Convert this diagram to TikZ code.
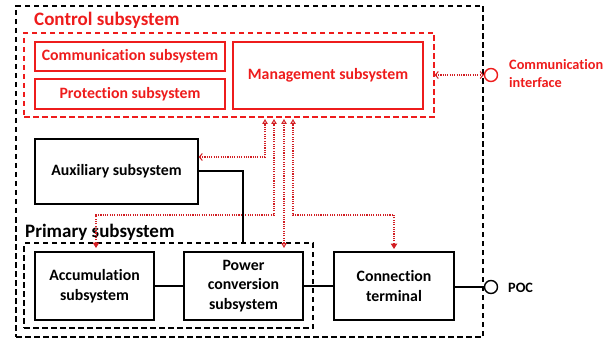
\documentclass[tikz,border=0pt]{standalone}
\usepackage{fontspec}
\setmainfont[Ligatures=NoCommon]{Carlito}
\usetikzlibrary{arrows.meta}
\definecolor{cred}{RGB}{238,28,28}
\definecolor{dred}{RGB}{210,30,35}
\begin{document}
\begin{tikzpicture}[x=1pt,y=-1pt,
  bx/.style={draw=black, line width=1.4pt, inner sep=0pt, align=center,
    font=\fontsize{15.8}{19.5}\selectfont\bfseries},
  rbx/.style={bx, draw=cred, text=cred},
  dbox/.style={draw=black, line width=1.3pt, dash pattern=on 5.5pt off 3.5pt, inner sep=0pt},
  dot/.style={dred, line width=1.1pt, dash pattern=on 1.1pt off 1.2pt},
  uptip/.tip={Triangle[open,length=5pt,width=5.5pt,line width=1pt]},
  barbtip/.tip={Straight Barb[length=3pt,width=7pt,line width=1pt]},
  dtip/.tip={Triangle[length=5.5pt,width=6.5pt]},
  otip/.tip={Triangle[open,length=5pt,width=5.5pt,line width=1pt]},
  wire/.style={draw=black, line width=1.4pt},
]
\useasboundingbox (0,0) rectangle (616,342);
% frames
\node[dbox, minimum width=467pt, minimum height=331pt] (outer) at (249.5,171.5) {};
\node[dbox, draw=cred, minimum width=410pt, minimum height=84pt] (ctrl) at (229,75) {};
\node[dbox, minimum width=289pt, minimum height=85pt] (prim) at (168.5,285.5) {};
% labels
\node[anchor=west, inner sep=0pt, text=cred, font=\fontsize{19}{21}\selectfont\bfseries] (ctrllbl) at (34,20) {Control subsystem};
\node[anchor=west, inner sep=0pt, font=\fontsize{19}{21}\selectfont\bfseries] (primlbl) at (25,232) {Primary subsystem};
% control boxes
\node[rbx, minimum width=190pt, minimum height=29pt] (comm) at (130,56.5) {Communication subsystem};
\node[rbx, minimum width=190pt, minimum height=30pt] (prot) at (130,94) {Protection subsystem};
\node[rbx, minimum width=190pt, minimum height=67pt] (mgmt) at (328,75.5) {Management subsystem};
% other boxes
\node[bx, minimum width=163pt, minimum height=65pt] (aux) at (116.5,171.5) {Auxiliary subsystem};
\node[bx, minimum width=119pt, minimum height=68pt] (acc) at (94.5,286) {Accumulation\\subsystem};
\node[bx, minimum width=119pt, minimum height=68pt] (pcs) at (243.5,286) {Power\\conversion\\subsystem};
\node[bx, minimum width=120pt, minimum height=68pt] (conn) at (394,286) {Connection\\terminal};
% terminals
\node[circle, draw=cred, line width=1.4pt, minimum size=13pt, inner sep=0pt] (ci) at (491,75) {};
\node[circle, draw=black, line width=1.4pt, minimum size=13pt, inner sep=0pt] (poc) at (491,287) {};
\node[anchor=west, inner sep=0pt, align=left, text=cred, font=\fontsize{14.3}{18}\selectfont\bfseries] (cilbl) at (509,74) {Communication\\interface};
\node[anchor=west, inner sep=0pt, font=\fontsize{14.3}{16}\selectfont\bfseries] (poclbl) at (508,288) {POC};
% coordinates
\coordinate (u1) at (265,119);
\coordinate (u2) at (274,119);
\coordinate (u3) at (284,119);
\coordinate (u4) at (293,119);
\coordinate (k1) at (265,157);
\coordinate (k2) at (274,215);
\coordinate (k2b) at (96,215);
\coordinate (k4) at (293,215);
\coordinate (k4b) at (394,215);
\coordinate (d2) at (96,248);
\coordinate (d3) at (284,248);
\coordinate (d4) at (394,249);
\coordinate (a1) at (243,171);
\coordinate (a2) at (243,243);
% dotted control links
\draw[dot, arrows={barbtip-barbtip}] (ctrl.east) -- (ci.west);
\draw[dot, arrows={barbtip-uptip}] (aux.east |- k1) -- (k1) -- (u1);
\draw[dot, arrows={dtip-uptip}] (d2) -- (k2b) -- (k2) -- (u2);
\draw[dot, arrows={otip-uptip}] (d3) -- (u3);
\draw[dot, arrows={dtip-uptip}] (d4) -- (k4b) -- (k4) -- (u4);
% power wiring
\draw[wire] (aux.east |- a1) -- (a1) -- (a2);
\draw[wire] (acc.east) -- (pcs.west);
\draw[wire] (pcs.east) -- (conn.west);
\draw[wire] (conn.east |- poc) -- (poc.west);
\end{tikzpicture}
\end{document}
